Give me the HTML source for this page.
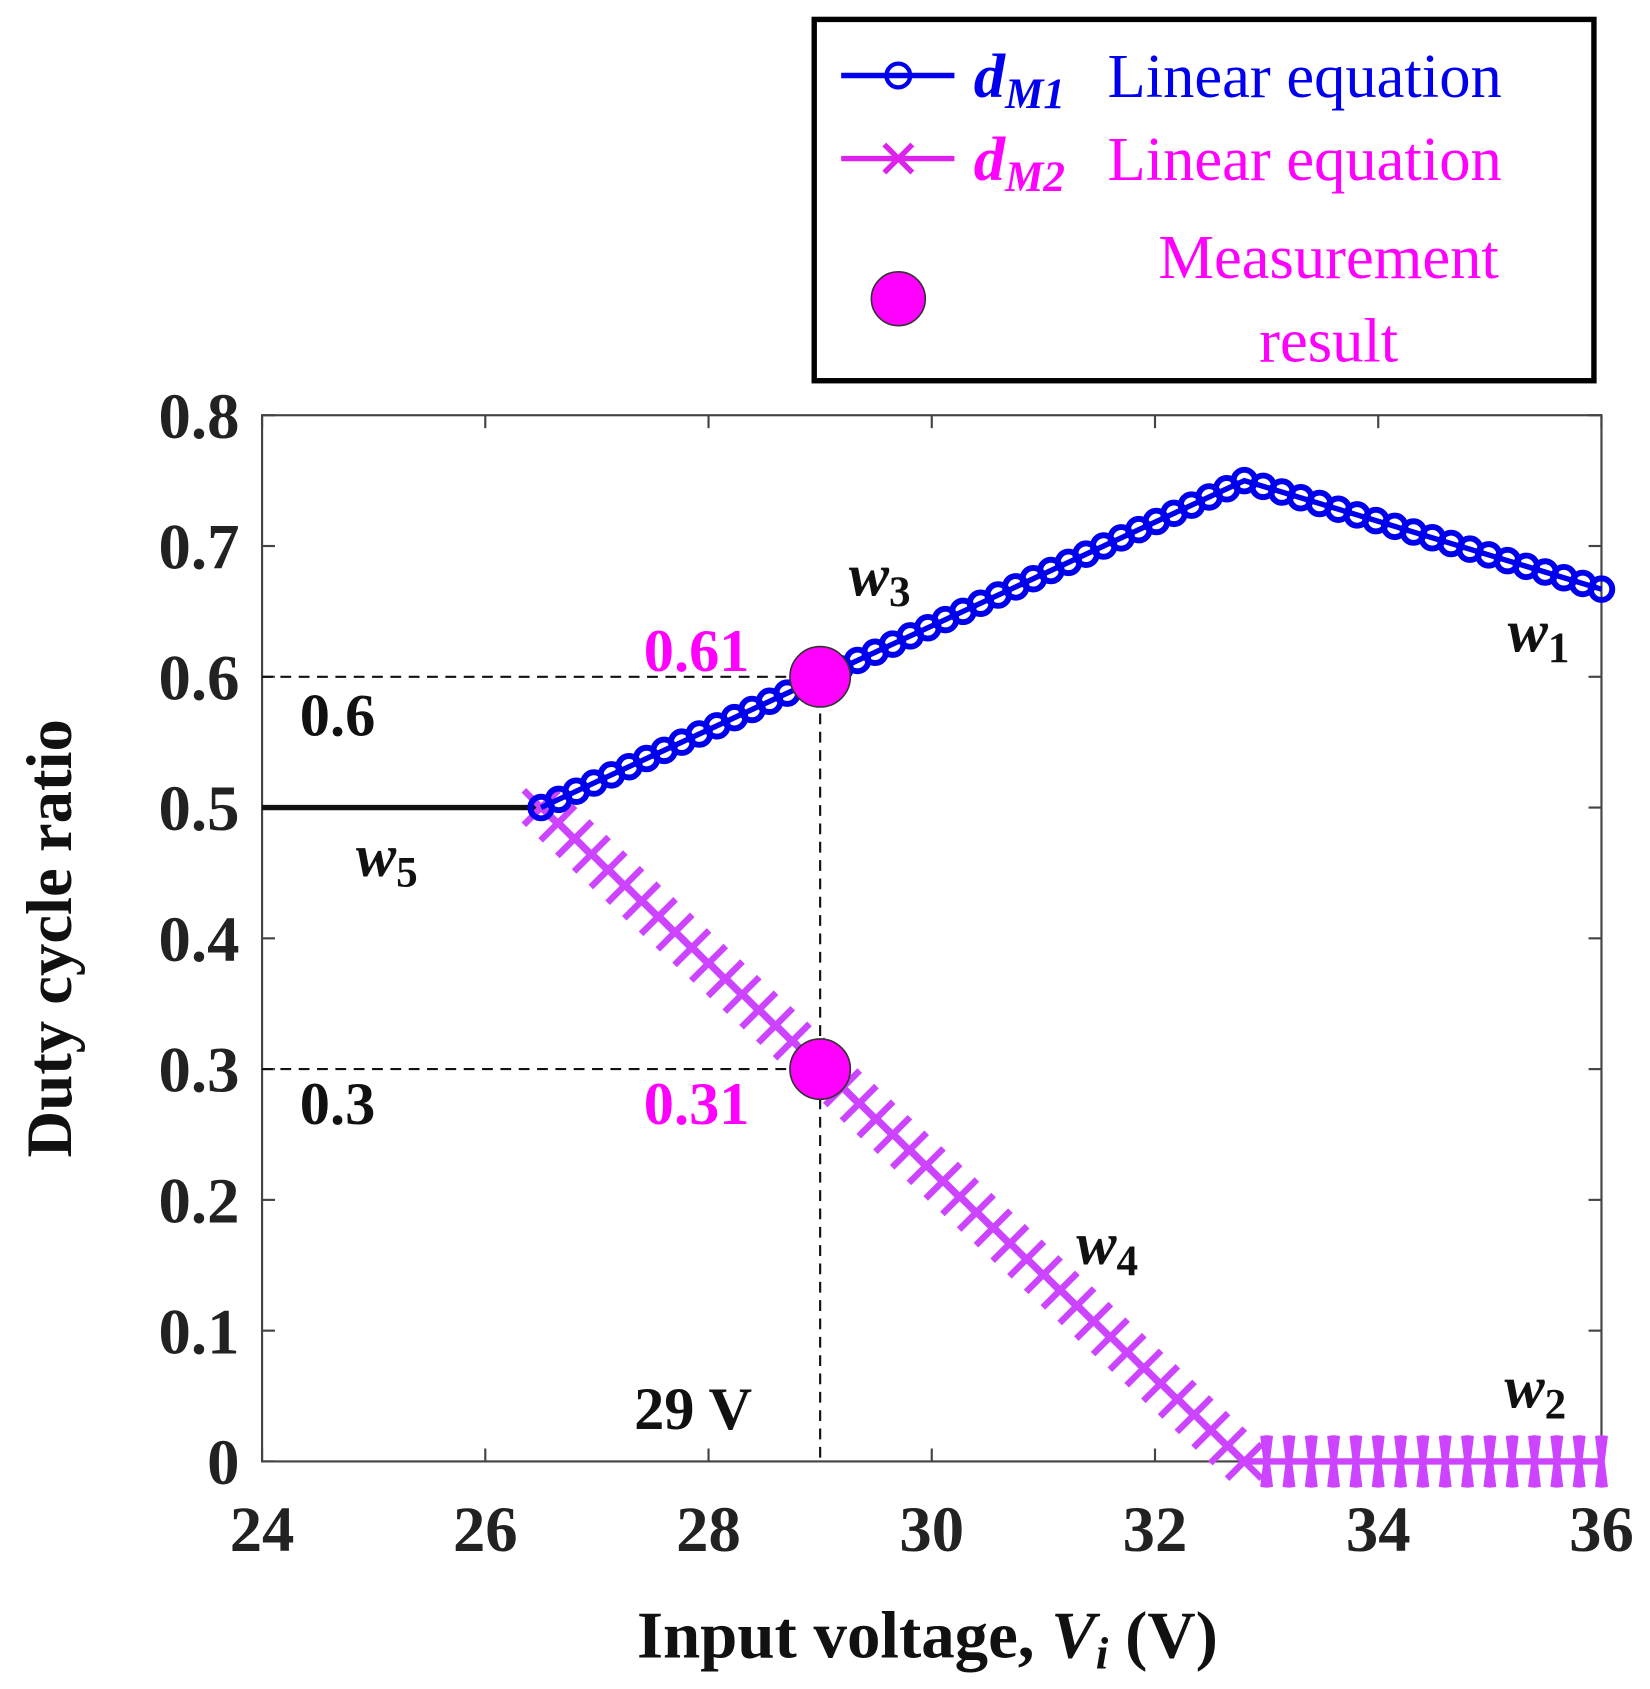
<!DOCTYPE html>
<html><head><meta charset="utf-8"><style>html,body{margin:0;padding:0;background:#fff}svg{display:block}text{font-family:"Liberation Serif",serif}</style></head>
<body>
<svg width="1650" height="1689" viewBox="0 0 1530 1566" preserveAspectRatio="none" xmlns="http://www.w3.org/2000/svg">
<g id="plot"></g>
<g id="legend">
<rect x="755" y="18" width="723" height="335" fill="#fff" stroke="#000" stroke-width="5"/>
<g>
<line x1="780" y1="70" x2="885" y2="70" stroke="#0000ee" stroke-width="5"/>
<circle cx="833" cy="70" r="11" fill="none" stroke="#0000ee" stroke-width="4"/>
<text x="903" y="90" font-size="58" font-weight="bold" font-style="italic" fill="#0000ee">d<tspan font-size="40" dy="10">M1</tspan></text>
<text x="1027" y="90" font-size="58" fill="#0000ee">Linear equation</text></g>
<g>
<line x1="780" y1="147" x2="885" y2="147" stroke="#dd22ee" stroke-width="5"/>
<path d="M820 134 L846 160 M846 134 L820 160" stroke="#dd22ee" stroke-width="5"/>
<text x="903" y="167" font-size="58" font-weight="bold" font-style="italic" fill="#ff00ff">d<tspan font-size="40" dy="10">M2</tspan></text>
<text x="1027" y="167" font-size="58" fill="#ff00ff">Linear equation</text></g>
<g>
<circle cx="833" cy="277" r="25" fill="#ff00ff" stroke="#333" stroke-width="1.5"/>
<text x="1232" y="258" font-size="58" fill="#ff00ff" text-anchor="middle">Measurement</text>
<text x="1232" y="335" font-size="58" fill="#ff00ff" text-anchor="middle">result</text></g>
</g>
</svg>
<script>
const xTicks=[24,26,28,30,32,34,36];
const yTicks=[0,0.1,0.2,0.3,0.4,0.5,0.6,0.7,0.8];
const yTickLabels=['0','0.1','0.2','0.3','0.4','0.5','0.6','0.7','0.8'];
const dm1X=[26.5,32.8,36];
const dm1Y=[0.5,0.75,0.667];
const dm2X=[26.5,32.8,36];
const dm2Y=[0.5,0,0];
const w5X=[24,26.5];
const w5Y=[0.5,0.5];
const measX=[29,29];
const measY=[0.6,0.3];

const L=243,R=1485,T=385,B=1355;
const sx=v=>L+(v-24)/(36-24)*(R-L);
const sy=v=>B-(v/0.8)*(B-T);
const NS='http://www.w3.org/2000/svg';
const g=document.getElementById('plot');
function mk(tag,at,parent){const e=document.createElementNS(NS,tag);for(const k in at)e.setAttribute(k,at[k]);(parent||g).appendChild(e);return e;}

const box=mk('rect',{x:L,y:T,width:R-L,height:B-T,fill:'none',stroke:'#444','stroke-width':2});


xTicks.forEach(v=>{
 mk('line',{x1:sx(v),y1:B,x2:sx(v),y2:B-12,stroke:'#444','stroke-width':2});
 mk('line',{x1:sx(v),y1:T,x2:sx(v),y2:T+12,stroke:'#444','stroke-width':2});
 const t=mk('text',{x:sx(v),y:1438,'font-size':60,'font-weight':'bold','text-anchor':'middle',fill:'#222'});
 t.textContent=v;
 
 
});
yTicks.forEach((v,i)=>{
 mk('line',{x1:L,y1:sy(v),x2:L+12,y2:sy(v),stroke:'#444','stroke-width':2});
 mk('line',{x1:R,y1:sy(v),x2:R-12,y2:sy(v),stroke:'#444','stroke-width':2});
 const t=mk('text',{x:222,y:sy(v)+21,'font-size':60,'font-weight':'bold','text-anchor':'end',fill:'#222'});
 t.textContent=yTickLabels[i];
 
 
});
const xt=mk('text',{x:860,y:1537,'font-size':62,'font-weight':'bold','text-anchor':'middle',fill:'#111'});
xt.innerHTML='Input voltage, <tspan font-style="italic">V</tspan><tspan font-style="italic" font-size="42" dy="10">i</tspan><tspan dy="-10"> (V)</tspan>';


const yt=mk('text',{x:0,y:0,'font-size':60,'font-weight':'bold','text-anchor':'middle',fill:'#111',transform:'translate(66,870) rotate(-90)'});
yt.textContent='Duty cycle ratio';



measX.forEach((mx,i)=>{
 const d=mk('line',{x1:sx(24),y1:sy(measY[i]),x2:sx(mx),y2:sy(measY[i]),stroke:'#111','stroke-width':2,'stroke-dasharray':'10,7'});
 
 
});
const dv=mk('line',{x1:sx(measX[0]),y1:sy(Math.max(...measY)),x2:sx(measX[0]),y2:B,stroke:'#111','stroke-width':2,'stroke-dasharray':'10,7'});



const w5=mk('polyline',{points:w5X.map((x,i)=>sx(x)+','+sy(w5Y[i])).join(' '),fill:'none',stroke:'#111','stroke-width':5});



function markersAlong(xs,ys,spacing,fn){
 for(let s=0;s<xs.length-1;s++){
  const x1=sx(xs[s]),y1=sy(ys[s]),x2=sx(xs[s+1]),y2=sy(ys[s+1]);
  const len=Math.hypot(x2-x1,y2-y1);const n=Math.max(1,Math.round(len/spacing));
  for(let k=(s==0?0:1);k<=n;k++){fn(x1+(x2-x1)*k/n,y1+(y2-y1)*k/n,y1===y2);}
 }
}
const g2=mk('g',{});


mk('polyline',{points:dm2X.map((x,i)=>sx(x)+','+sy(dm2Y[i])).join(' '),fill:'none',stroke:'#cc44ff','stroke-width':6},g2);
markersAlong(dm2X,dm2Y,21,(x,y,flat)=>{
 const w=flat?3:16,h=flat?24:16;
 mk('path',{d:`M${x-w} ${y-h} L${x+w} ${y+h} M${x+w} ${y-h} L${x-w} ${y+h}`,stroke:'#cc44ff','stroke-width':6},g2);});
const g1=mk('g',{});


mk('polyline',{points:dm1X.map((x,i)=>sx(x)+','+sy(dm1Y[i])).join(' '),fill:'none',stroke:'#0000ee','stroke-width':5},g1);
markersAlong(dm1X,dm1Y,18,(x,y)=>{mk('circle',{cx:x,cy:y,r:10,fill:'none',stroke:'#0000ee','stroke-width':5.5},g1);});

measX.forEach((mx,i)=>{
 const c=mk('circle',{cx:sx(mx),cy:sy(measY[i]),r:28,fill:'#ff00ff',stroke:'#333','stroke-width':1.5});
 
 
});

const ann=[['0.6',278,682,'#111'],['0.3',278,1042,'#111'],['0.61',597,622,'#ff00ff'],['0.31',597,1042,'#ff00ff'],['29 V',588,1325,'#111']];
ann.forEach(a=>{const t=mk('text',{x:a[1],y:a[2],'font-size':56,'font-weight':'bold',fill:a[3]});t.textContent=a[0];
 
 });
const ws=[['3',787,552],['1',1398,604],['5',330,812],['4',998,1172],['2',1395,1305]];
ws.forEach(w=>{const t=mk('text',{x:w[1],y:w[2],'font-size':56,'font-weight':'bold','font-style':'italic',fill:'#111'});
 t.innerHTML='w<tspan font-style="normal" font-size="40" dy="10">'+w[0]+'</tspan>';
 
 });
</script>
</body></html>
